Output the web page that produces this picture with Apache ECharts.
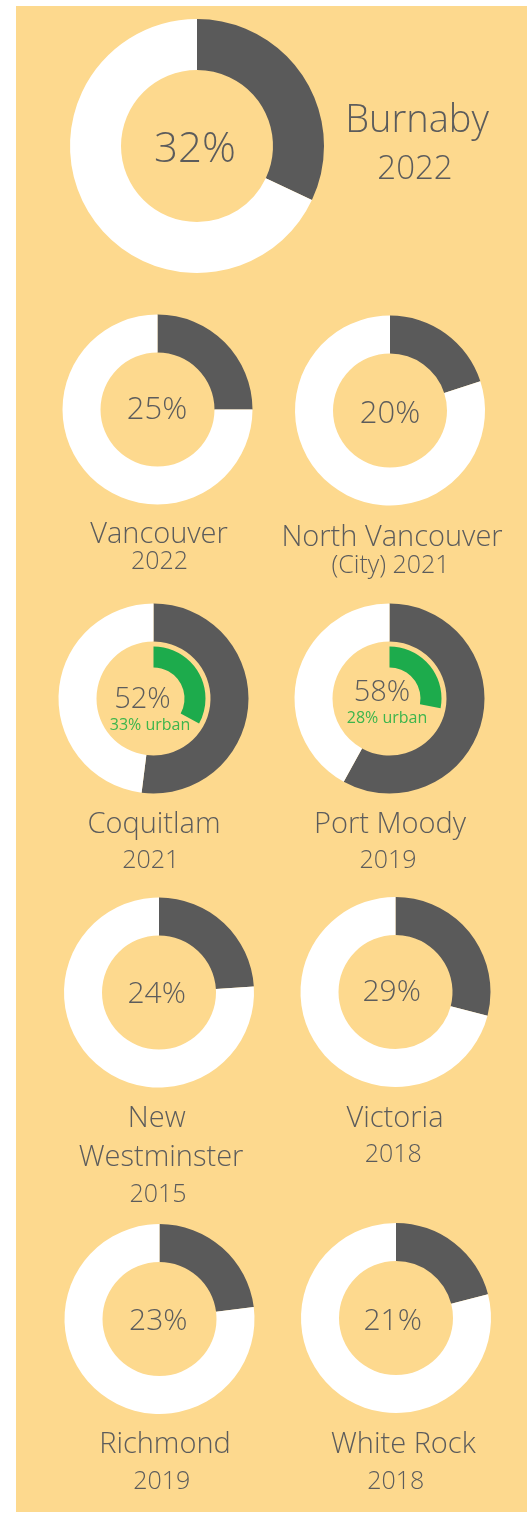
<!DOCTYPE html>
<html>
<head>
<meta charset="utf-8">
<script src="https://cdn.jsdelivr.net/npm/echarts@6/dist/echarts.min.js"></script>
<style>
    html, body { margin: 0; padding: 0; background: #fff; }
    #chart { width: 532px; height: 1513px; }
</style>
</head>
<body>
<div id="chart"></div>
<script>
// data
var cities = ['Burnaby', 'Vancouver', 'North Vancouver', 'Coquitlam', 'Port Moody',
              'New Westminster', 'Victoria', 'Richmond', 'White Rock'];
var nameLines = [['Burnaby', '2022'], ['Vancouver', '2022'], ['North Vancouver', '(City) 2021'],
                 ['Coquitlam', '2021'], ['Port Moody', '2019'], ['New', 'Westminster', '2015'],
                 ['Victoria', '2018'], ['Richmond', '2019'], ['White Rock', '2018']];
var shares = [32, 25, 20, 52, 58, 24, 29, 23, 21];
var urbanShares = [null, null, null, 33, 28, null, null, null, null];

// layout: ring centre, radii, percent label baseline, name block
var layout = [
    {c: [197, 146], r: [76, 127], pct: [195, 162, 42], names: [[417, 132, 38], [415, 179, 33]]},
    {c: [157.5, 409.5], r: [57, 95], pct: [157, 419, 31], names: [[159, 543, 29], [159.5, 569, 25]]},
    {c: [390, 410.5], r: [57, 95], pct: [390, 423, 31], names: [[392, 546, 29], [390.5, 573, 25]]},
    {c: [153.5, 698.5], r: [57, 95], pct: [142.5, 708, 29], urban: [150, 730, 16], names: [[154, 833, 29], [150.7, 868, 25]]},
    {c: [389.5, 698.5], r: [57, 95], pct: [382, 701, 29], urban: [387, 723, 16], names: [[390, 833, 29], [388, 868, 25]]},
    {c: [159, 992.5], r: [57, 95], pct: [156.7, 1003, 30], names: [[156.7, 1127, 29], [161, 1166, 29], [158, 1202, 25]]},
    {c: [395.5, 992], r: [57, 95], pct: [391.7, 1001, 30], names: [[395, 1127, 29], [393.3, 1162, 25]]},
    {c: [159.5, 1319], r: [57, 95], pct: [158.3, 1330, 30], names: [[165, 1453, 29], [161.7, 1489, 25]]},
    {c: [396, 1318], r: [57, 95], pct: [392.7, 1330, 30], names: [[403.3, 1453, 29], [395.7, 1489, 25]]}
];

var DARK = '#5a5a5a', TEXT = '#5c5c5c', GREEN = '#1dab4c', GREEN_TEXT = '#3db54c', BG = '#fdd98e';
var FONT = '"Open Sans", Lato, sans-serif';

var chart = echarts.init(document.getElementById('chart'));

function txt(x, base, str, size, color, weight) {
    return {
        type: 'text', z: 100, silent: true,
        x: x, y: base - size * 0.29,
        style: {
            text: str, fill: color, font: (weight || 300) + ' ' + size + 'px ' + FONT,
            align: 'center', verticalAlign: 'middle'
        }
    };
}

var series = [];
var graphic = [{
    type: 'rect', z: -10, silent: true,
    shape: {x: 16, y: 6, width: 511, height: 1506},
    style: {fill: BG}
}];

cities.forEach(function (city, i) {
    var L = layout[i];
    series.push({
        name: city, type: 'pie', silent: true, animation: false,
        center: L.c, radius: L.r, startAngle: 90, clockwise: true,
        label: {show: false}, labelLine: {show: false},
        emphasis: {disabled: true},
        data: [
            {value: shares[i], itemStyle: {color: DARK}},
            {value: 100 - shares[i], itemStyle: {color: '#ffffff'}}
        ]
    });
    if (urbanShares[i] != null) {
        series.push({
            name: city + ' urban', type: 'pie', silent: true, animation: false,
            center: L.c, radius: [31, 52], startAngle: 90, clockwise: true,
            label: {show: false}, labelLine: {show: false},
            emphasis: {disabled: true},
            data: [
                {value: urbanShares[i], itemStyle: {color: GREEN}},
                {value: 100 - urbanShares[i], itemStyle: {color: 'rgba(0,0,0,0)'}}
            ]
        });
        graphic.push(txt(L.urban[0], L.urban[1], urbanShares[i] + '% urban', L.urban[2], GREEN_TEXT, 400));
    }
    graphic.push(txt(L.pct[0], L.pct[1], shares[i] + '%', L.pct[2], TEXT));
    nameLines[i].forEach(function (line, k) {
        var p = L.names[k];
        graphic.push(txt(p[0], p[1], line, p[2], TEXT));
    });
});

chart.setOption({
    backgroundColor: '#ffffff',
    animation: false,
    series: series,
    graphic: graphic
});
</script>
</body>
</html>
